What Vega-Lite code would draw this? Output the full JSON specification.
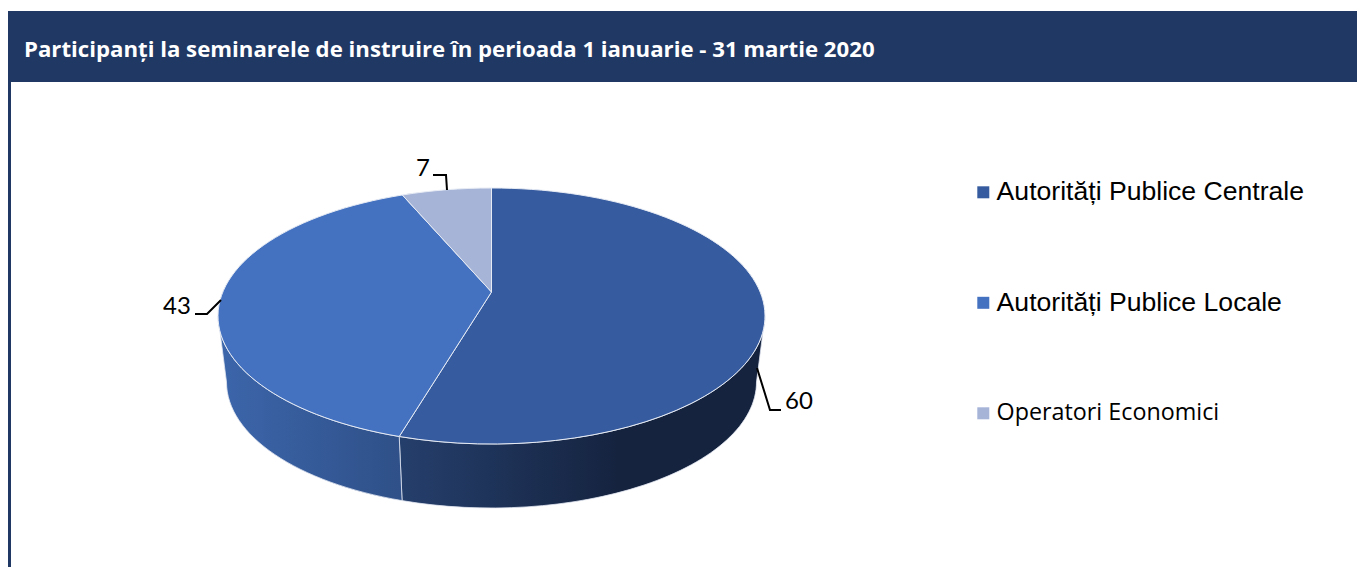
{
"$schema":"https://vega.github.io/schema/vega-lite/v6.json",
"width":1357,"height":567,"padding":0,"autosize":{"type":"fit","contains":"padding"},"background":"white",
"config":{"view":{"stroke":null}},
"data":{"values":[
{"categorie":"Autorități Publice Centrale","participanti":60},
{"categorie":"Autorități Publice Locale","participanti":43},
{"categorie":"Operatori Economici","participanti":7}
]},
"transform":[
{"joinaggregate":[{"op":"sum","field":"participanti","as":"total"}]},
{"window":[{"op":"sum","field":"participanti","as":"cum"}]},
{"calculate":"2*PI*(datum.cum-datum.participanti)/datum.total","as":"a0"},
{"calculate":"2*PI*datum.cum/datum.total","as":"a1"},
{"calculate":"sin(datum.a0)*0.9823/(1+0.1875*cos(datum.a0))","as":"x0"},
{"calculate":"(-cos(datum.a0)-0.1875)/(1+0.1875*cos(datum.a0))","as":"y0"},
{"calculate":"sin(datum.a1)*0.9823/(1+0.1875*cos(datum.a1))","as":"x1"},
{"calculate":"(-cos(datum.a1)-0.1875)/(1+0.1875*cos(datum.a1))","as":"y1"},
{"calculate":"'M0,-24 L'+(273.5*datum.x0)+','+(128*datum.y0)+' A273.5,128 0 '+(datum.a1-datum.a0>PI?1:0)+' 1 '+(273.5*datum.x1)+','+(128*datum.y1)+' Z'","as":"felie"},
{"calculate":"max(datum.a0,acos(-0.1875))","as":"w0"},
{"calculate":"min(datum.a1,2*PI-acos(-0.1875))","as":"w1"},
{"calculate":"sin(datum.w0)*0.9823/(1+0.1875*cos(datum.w0))","as":"wx0"},
{"calculate":"(-cos(datum.w0)-0.1875)/(1+0.1875*cos(datum.w0))","as":"wy0"},
{"calculate":"sin(datum.w1)*0.9823/(1+0.1875*cos(datum.w1))","as":"wx1"},
{"calculate":"(-cos(datum.w1)-0.1875)/(1+0.1875*cos(datum.w1))","as":"wy1"},
{"calculate":"'M'+(273.5*datum.wx0)+','+(128*datum.wy0)+' A273.5,128 0 0 1 '+(273.5*datum.wx1)+','+(128*datum.wy1)+' L'+(265*datum.wx1)+','+(66+126*datum.wy1)+' A265,126 0 0 0 '+(265*datum.wx0)+','+(66+126*datum.wy0)+' Z'","as":"perete"},
{"calculate":"datum.participanti==60?'M265.5,52 L278.5,94 L289.5,94':datum.participanti==43?'M-296.5,-2 L-284.5,-2 L-270.5,-16':'M-58.5,-141 L-45.5,-141 L-44.5,-126'","as":"ghidaj"},
{"calculate":"datum.participanti==60?799:datum.participanti==43?177:423","as":"lx"},
{"calculate":"datum.participanti==60?402:datum.participanti==43?307:169","as":"ly"}
],
"layer":[
{"data":{"values":[{}]},"mark":{"type":"rect","color":"#203864"},"encoding":{"x":{"value":8},"x2":{"value":1357},"y":{"value":11},"y2":{"value":82}}},
{"data":{"values":[{}]},"mark":{"type":"rect","color":"#203864"},"encoding":{"x":{"value":8},"x2":{"value":11},"y":{"value":82},"y2":{"value":567}}},
{"data":{"values":[{}]},"mark":{"type":"text","align":"left","baseline":"middle","font":"Open Sans","fontWeight":"bold","fontSize":22.2,"color":"white"},"encoding":{"x":{"value":24},"y":{"value":50},"text":{"value":"Participanți la seminarele de instruire în perioada 1 ianuarie - 31 martie 2020"}}},
{"transform":[{"filter":"datum.participanti==60"}],
 "mark":{"type":"point","filled":true,"opacity":1,"stroke":"#dfe5f0","strokeWidth":0.8,"fill":{"gradient":"linear","x1":0,"y1":0,"x2":1,"y2":0,"stops":[{"offset":0,"color":"#253f6c"},{"offset":0.6,"color":"#15233f"},{"offset":1,"color":"#15233f"}]}},
 "encoding":{"x":{"value":491.5},"y":{"value":316},"size":{"value":4},"shape":{"field":"perete","type":"nominal","scale":null,"legend":null}}},
{"transform":[{"filter":"datum.participanti==43"}],
 "mark":{"type":"point","filled":true,"opacity":1,"stroke":"#dfe5f0","strokeWidth":0.8,"fill":{"gradient":"linear","x1":0,"y1":0,"x2":1,"y2":0,"stops":[{"offset":0,"color":"#3c66ab"},{"offset":1,"color":"#2f5088"}]}},
 "encoding":{"x":{"value":491.5},"y":{"value":316},"size":{"value":4},"shape":{"field":"perete","type":"nominal","scale":null,"legend":null}}},
{"mark":{"type":"point","filled":true,"opacity":1,"stroke":"#e6ebf4","strokeWidth":1},
 "encoding":{"x":{"value":491.5},"y":{"value":316},"size":{"value":4},
  "shape":{"field":"felie","type":"nominal","scale":null,"legend":null},
  "color":{"field":"categorie","type":"nominal",
   "scale":{"domain":["Autorități Publice Centrale","Autorități Publice Locale","Operatori Economici"],"range":["#365b9f","#4472c1","#a6b4d8"]},
   "legend":{"title":null,"orient":"none","legendX":970,"legendY":179,"symbolType":"square","symbolSize":144,"symbolStrokeWidth":0,"labelFont":{"expr":"datum.label==='Operatori Economici'?'Open Sans':'Liberation Sans'"},"labelFontSize":{"expr":"datum.label==='Operatori Economici'?23.3:26.6"},"labelColor":"#000000","labelLimit":400,"labelOffset":0,"rowPadding":83.5}}}},
{"mark":{"type":"point","filled":false,"opacity":1,"stroke":"black","strokeWidth":2},
 "encoding":{"x":{"value":491.5},"y":{"value":316},"size":{"value":4},"shape":{"field":"ghidaj","type":"nominal","scale":null,"legend":null}}},
{"mark":{"type":"text","font":"Lato","fontSize":24,"color":"black","baseline":"middle","align":"center"},
 "encoding":{"x":{"field":"lx","type":"quantitative","scale":null},"y":{"field":"ly","type":"quantitative","scale":null},"text":{"field":"participanti","type":"quantitative"}}}
]
}
